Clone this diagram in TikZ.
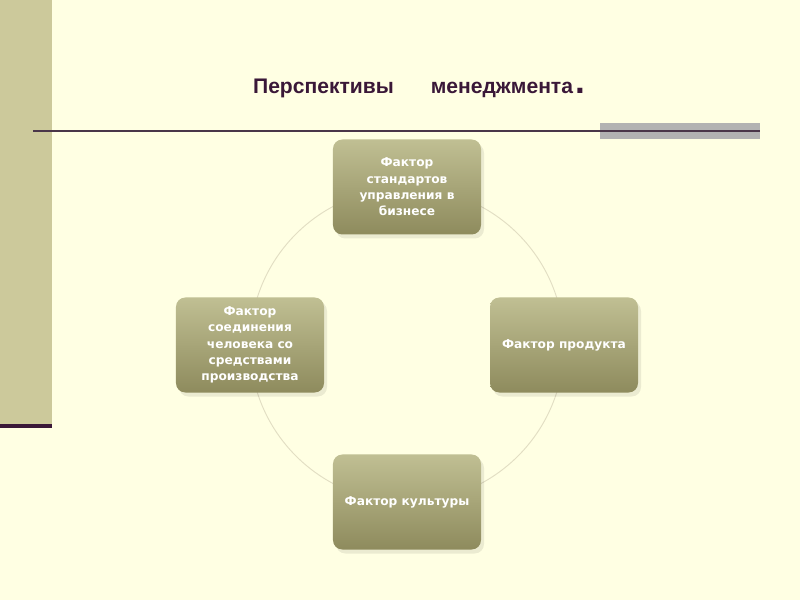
\documentclass[tikz,border=0pt]{standalone}
\usepackage{fontspec}
\setmainfont{Liberation Sans}
\newfontfamily\boxfont{DejaVu Sans}
\usetikzlibrary{positioning}
\definecolor{pagebg}{HTML}{FFFFE3}
\definecolor{stripol}{HTML}{CCC99B}
\definecolor{plum}{HTML}{4A3649}
\definecolor{plumdark}{HTML}{3A1838}
\definecolor{bargray}{HTML}{B2B2B2}
\definecolor{boxtop}{HTML}{C0BF93}
\definecolor{boxbot}{HTML}{8E8B5D}
\definecolor{ringcol}{HTML}{E2DEC3}

\begin{document}
\begin{tikzpicture}[x=0.03cm,y=-0.03cm]
\tikzset{
  factorbox/.style={rectangle,rounded corners=8pt,minimum width=4.44cm,minimum height=2.85cm,
    top color=boxtop,bottom color=boxbot,draw=none,text=white,align=center,
    font=\boxfont\bfseries\fontsize{10.4}{14}\selectfont,inner sep=2pt},
  boxshadow/.style={rectangle,rounded corners=8pt,minimum width=4.44cm,minimum height=2.85cm,
    fill=black,opacity=0.08,draw=none},
  ring/.style={draw=ringcol,line width=0.8pt},
  titletext/.style={font=\fontsize{18}{20}\selectfont\bfseries,text=plumdark}
}
% page
\useasboundingbox[fill=pagebg] (0,0) rectangle (800,600);
\fill[stripol] (0,0) rectangle (52,424);
\fill[plumdark] (0,424) rectangle (52,428);
\fill[bargray] (600,123) rectangle (760,139);
\draw[plum,line width=1.6pt] (33,131) -- (760,131);
% title
\node[titletext] (title) at (419,88) {Перспективы\hspace{1.75em}менеджмента\hspace{0.1em}{\fontsize{30}{30}\selectfont.}};
% ring
\coordinate (hub) at (407,345);
\draw[ring] (hub) circle[radius=157];
% shadows
\node[boxshadow] at (410,191) {};
\node[boxshadow] at (567,349) {};
\node[boxshadow] at (410,506) {};
\node[boxshadow] at (253,349) {};
% factors
\node[factorbox] (f_std) at (407,187) {Фактор\\стандартов\\управления в\\бизнесе};
\node[factorbox] (f_prod) at (564,345) {Фактор продукта};
\node[factorbox] (f_cult) at (407,502) {Фактор культуры};
\node[factorbox] (f_man) at (250,345) {Фактор\\соединения\\человека со\\средствами\\производства};
\end{tikzpicture}
\end{document}
